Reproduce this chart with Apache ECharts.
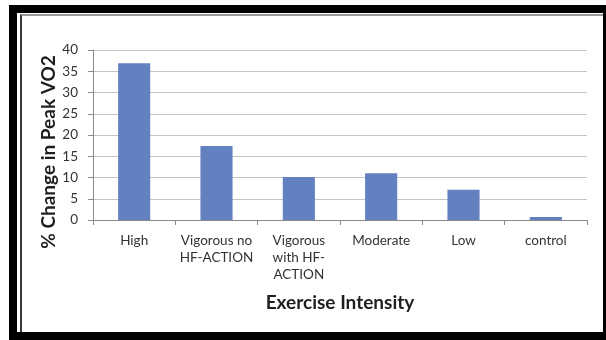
<!DOCTYPE html>
<html>
<head>
<meta charset="utf-8">
<script src="https://cdn.jsdelivr.net/npm/echarts@6/dist/echarts.min.js"></script>
<style>
  html, body { margin: 0; padding: 0; background: #fff; }
  #wrap { position: relative; width: 606px; height: 340px; overflow: hidden; }
  /* picture frame: thick black band with a thin inner rule */
  .frame-outer { position: absolute; left: 9px; top: 5px; width: 597px; height: 335px; background: #000; }
  .frame-inner { position: absolute; left: 17px; top: 13px; width: 586px; height: 319px; background: #fff; }
  .frame-rule { position: absolute; left: 20px; top: 14px; width: 583px; height: 318px;
                border-left: 2px solid #3a3a3a; border-top: 2px solid #9a9a9a; box-sizing: border-box; }
  #chart { position: absolute; left: 0; top: 0; width: 606px; height: 340px; }
</style>
</head>
<body>
<div id="wrap">
  <div class="frame-outer"></div>
  <div class="frame-inner"></div>
  <div class="frame-rule"></div>
  <div id="chart"></div>
</div>
<script>
// Exercise intensity groups and the mean % change in peak VO2 for each
const categories = ['High', 'Vigorous no\nHF-ACTION', 'Vigorous\nwith HF-\nACTION', 'Moderate', 'Low', 'control'];
const peakVO2Change = [36.9, 17.4, 10.1, 11.0, 7.1, 0.7];
const yTicks = { min: 0, max: 40, interval: 5 };

const chart = echarts.init(document.getElementById('chart'), null, { renderer: 'canvas' });
const font = 'Lato, "Open Sans", sans-serif';

chart.setOption({
  backgroundColor: 'transparent',
  animation: false,
  grid: { left: 93, top: 50, width: 494, height: 170, containLabel: false },
  xAxis: {
    type: 'category',
    data: categories,
    name: 'Exercise Intensity',
    nameLocation: 'middle',
    nameGap: 73,
    nameMoveOverlap: false,
    nameTextStyle: { fontFamily: font, fontWeight: 'bold', fontSize: 19, color: '#1e1e1e' },
    axisLine: { lineStyle: { color: '#8a8a8a', width: 1 } },
    axisTick: { show: true, length: 5, alignWithLabel: false, lineStyle: { color: '#8a8a8a' } },
    axisLabel: { fontFamily: font, fontSize: 13.5, color: '#333', margin: 12, lineHeight: 17, interval: 0 }
  },
  yAxis: {
    type: 'value',
    min: yTicks.min,
    max: yTicks.max,
    interval: yTicks.interval,
    name: '% Change in Peak VO2',
    nameLocation: 'middle',
    nameGap: 35,
    nameRotate: 90,
    nameMoveOverlap: false,
    // right padding (along the rotated text) nudges the title a little below the axis middle
    nameTextStyle: { fontFamily: font, fontWeight: 'bold', fontSize: 19, color: '#1e1e1e', padding: [0, 34, 0, 0] },
    axisLine: { show: true, lineStyle: { color: '#8a8a8a', width: 1 } },
    axisTick: { show: true, length: 5, lineStyle: { color: '#8a8a8a' } },
    axisLabel: { fontFamily: font, fontSize: 13.5, color: '#333', margin: 15 },
    splitLine: { lineStyle: { color: '#c4c4c4', width: 1 } }
  },
  series: [{
    type: 'bar',
    data: peakVO2Change,
    barWidth: '39%',
    itemStyle: { color: '#6381c0' }
  }]
});
</script>
</body>
</html>
